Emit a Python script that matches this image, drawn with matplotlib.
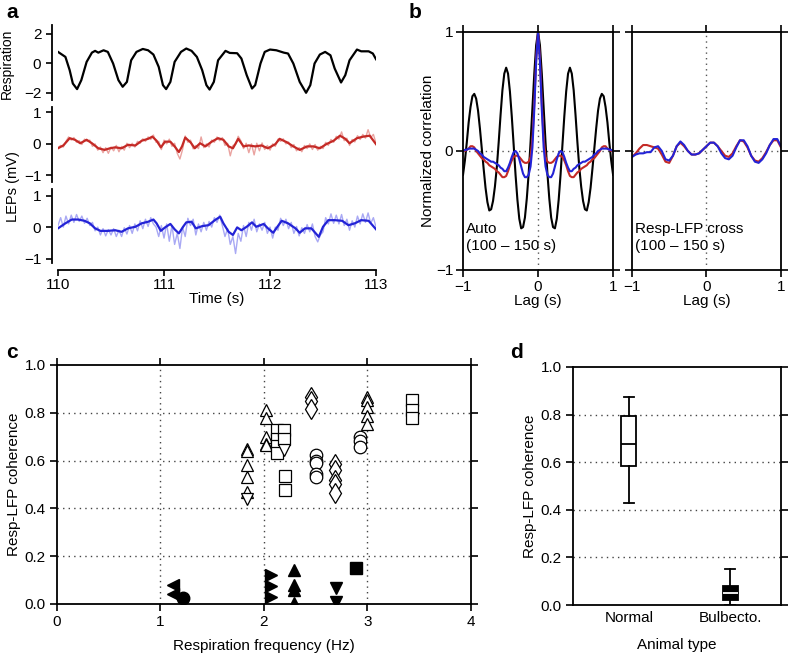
import matplotlib.pyplot as plt
import numpy as np

plt.rcParams['font.family'] = ['Liberation Sans', 'DejaVu Sans']
plt.rcParams['font.size'] = 11
plt.rcParams['axes.linewidth'] = 1.3
plt.rcParams['xtick.major.width'] = 1.2
plt.rcParams['ytick.major.width'] = 1.2

# ---- panel a: raw traces (time in s) ----
resp_t = [110.00, 110.07, 110.11, 110.14, 110.18, 110.22, 110.27, 110.32, 110.35, 110.38,
          110.43, 110.47, 110.52, 110.57, 110.61, 110.65, 110.69, 110.74, 110.80, 110.85,
          110.90, 110.95, 110.99, 111.02, 111.06, 111.10, 111.16, 111.21, 111.26, 111.31,
          111.36, 111.40, 111.43, 111.47, 111.51, 111.58, 111.62, 111.69, 111.73, 111.78,
          111.83, 111.86, 111.91, 111.95, 112.00, 112.06, 112.13, 112.17, 112.22, 112.28,
          112.34, 112.38, 112.42, 112.47, 112.52, 112.57, 112.61, 112.67, 112.71, 112.75,
          112.82, 112.86, 112.93, 112.97, 113.00]
resp_v = [0.77, 0.43, -0.47, -1.38, -1.76, -1.15, 0.09, 0.72, 0.84, 0.72,
          0.88, 0.77, -0.02, -1.15, -1.60, -1.27, 0.20, 0.77, 0.97, 0.88,
          0.59, -0.25, -1.49, -1.76, -1.27, 0.09, 0.77, 1.00, 0.84, 0.43,
          -0.47, -1.49, -1.79, -1.27, 0.20, 0.84, 0.70, 0.68, 0.32, -0.81,
          -1.72, -1.49, -0.02, 0.77, 0.93, 0.88, 0.72, 0.66, -0.02, -1.27,
          -2.01, -1.49, -0.02, 0.59, 0.77, 0.54, -0.36, -1.31, -0.81, 0.20,
          0.93, 0.81, 0.81, 0.66, 0.27]

red_t = [110.00, 110.05, 110.11, 110.16, 110.21, 110.27, 110.32, 110.38, 110.44, 110.49,
         110.54, 110.60, 110.66, 110.73, 110.79, 110.85, 110.89, 110.93, 110.97, 111.01,
         111.06, 111.10, 111.14, 111.17, 111.20, 111.25, 111.29, 111.34, 111.39, 111.45,
         111.51, 111.56, 111.61, 111.65, 111.70, 111.75, 111.80, 111.86, 111.92, 111.98,
         112.05, 112.09, 112.16, 112.22, 112.28, 112.35, 112.41, 112.47, 112.53, 112.60,
         112.66, 112.71, 112.75, 112.82, 112.88, 112.94, 113.00]
red_v = [-0.14, -0.05, 0.18, 0.13, 0.02, 0.13, 0.02, -0.14, -0.19, -0.14,
         -0.11, -0.14, -0.03, -0.05, 0.10, 0.16, 0.23, 0.10, -0.11, 0.07,
         0.07, -0.08, -0.26, -0.08, 0.20, 0.05, -0.14, 0.02, -0.08, 0.07,
         0.18, 0.13, -0.08, -0.14, 0.16, -0.08, -0.05, -0.08, -0.05, -0.14,
         -0.01, 0.16, 0.05, -0.08, -0.19, -0.08, -0.08, -0.14, -0.01, 0.10,
         0.26, 0.16, 0.02, 0.18, 0.23, 0.26, -0.01]

blue_t = [110.00, 110.07, 110.13, 110.19, 110.25, 110.30, 110.35, 110.40, 110.47, 110.54,
          110.60, 110.66, 110.73, 110.79, 110.85, 110.90, 110.93, 110.97, 111.01, 111.06,
          111.10, 111.14, 111.18, 111.21, 111.26, 111.30, 111.36, 111.42, 111.48, 111.53,
          111.56, 111.61, 111.65, 111.69, 111.73, 111.78, 111.83, 111.87, 111.94, 111.98,
          112.03, 112.08, 112.11, 112.17, 112.24, 112.28, 112.33, 112.39, 112.46, 112.50,
          112.55, 112.61, 112.68, 112.74, 112.80, 112.86, 112.93, 113.00]
blue_v = [-0.04, 0.12, 0.24, 0.24, 0.20, 0.12, -0.04, -0.12, -0.12, -0.10,
          -0.15, -0.04, 0.01, 0.12, 0.17, 0.24, 0.12, -0.12, -0.01, 0.10,
          -0.07, -0.20, 0.01, 0.15, 0.17, -0.04, 0.03, 0.06, 0.22, 0.33,
          0.12, -0.15, -0.25, -0.01, -0.10, 0.01, 0.15, 0.01, 0.10, -0.04,
          -0.18, 0.06, 0.20, 0.12, -0.04, -0.18, -0.04, -0.04, -0.31, 0.01,
          0.22, 0.22, 0.20, 0.06, 0.12, 0.22, 0.20, -0.07]

# unfiltered LFPs, sampled every 25 ms
raw_t = np.linspace(110, 113, 121)
red_raw = [-0.12, -0.05, -0.10, 0.08, 0.22, 0.12, 0.20, 0.05, 0.10, -0.02,
           0.15, 0.08, 0.12, -0.08, 0.00, -0.20, -0.10, -0.28, -0.12, -0.30,
           -0.10, -0.22, -0.05, -0.25, -0.08, -0.20, 0.02, -0.12, 0.02, -0.10,
           0.08, 0.02, 0.16, 0.08, 0.22, 0.14, 0.28, 0.05, 0.08, -0.18,
           0.12, 0.00, 0.15, -0.08, 0.02, -0.30, -0.48, -0.18, 0.25, 0.05,
           0.12, -0.16, -0.05, -0.15, 0.22, -0.12, 0.00, -0.10, 0.12, 0.05,
           0.22, 0.10, 0.20, -0.05, 0.02, -0.38, -0.05, -0.02, 0.24, 0.10,
           -0.15, 0.02, -0.28, 0.00, -0.35, 0.02, -0.22, 0.03, -0.18, -0.05,
           -0.20, 0.00, -0.08, 0.15, 0.08, 0.16, 0.00, 0.06, -0.12, -0.02,
           -0.22, -0.12, -0.25, -0.05, -0.15, 0.00, -0.18, -0.02, -0.20, -0.08,
           -0.15, 0.05, -0.05, 0.14, 0.05, 0.24, 0.15, 0.38, 0.10, 0.18,
           -0.05, 0.14, 0.06, 0.26, 0.14, 0.30, 0.18, 0.45, 0.20, 0.30,
           0.02]
blue_raw = [0.05, 0.30, 0.00, 0.35, 0.10, 0.38, 0.15, 0.40, 0.18, 0.35,
            0.12, 0.28, 0.05, 0.15, -0.12, 0.00, -0.25, -0.05, -0.28, -0.08,
            -0.25, -0.05, -0.30, -0.10, -0.30, -0.02, -0.22, 0.05, -0.20, 0.10,
            -0.12, 0.20, -0.05, 0.25, 0.02, 0.30, 0.10, 0.00, -0.30, 0.05,
            -0.35, 0.10, -0.45, 0.05, -0.55, -0.20, -0.68, 0.00, -0.30, 0.28,
            0.05, 0.25, -0.25, 0.10, -0.15, 0.15, -0.10, 0.18, 0.00, 0.30,
            0.15, 0.38, 0.05, -0.30, -0.05, -0.55, -0.30, -0.84, -0.20, -0.45,
            0.05, -0.30, 0.15, -0.10, 0.25, -0.15, 0.10, -0.10, 0.15, -0.20,
            0.00, -0.35, 0.00, -0.10, 0.28, 0.05, 0.25, -0.05, 0.15, -0.20,
            0.02, -0.28, -0.02, -0.20, 0.08, -0.15, 0.10, -0.30, -0.47, -0.25,
            -0.15, 0.30, 0.10, 0.42, 0.12, 0.38, 0.10, 0.40, 0.05, 0.25,
            -0.10, 0.20, 0.00, 0.35, 0.10, 0.42, 0.15, 0.45, 0.12, 0.30,
            0.00]

# ---- panel b: auto-correlations, lag -1..1 s every 25 ms ----
lags_auto = np.linspace(-1, 1, 81)
auto_resp = [-0.20, -0.08, 0.07, 0.24, 0.37, 0.46, 0.48, 0.44, 0.34, 0.19,
             0.02, -0.15, -0.31, -0.43, -0.50, -0.49, -0.42, -0.30, -0.14, 0.07,
             0.30, 0.51, 0.65, 0.70, 0.65, 0.50, 0.29, 0.05, -0.20, -0.41,
             -0.57, -0.65, -0.64, -0.56, -0.40, -0.19, 0.07, 0.36, 0.65, 0.89,
             1.00,
             0.89, 0.65, 0.36, 0.07, -0.19, -0.40, -0.56, -0.64, -0.65, -0.57,
             -0.41, -0.20, 0.05, 0.29, 0.50, 0.65, 0.70, 0.65, 0.51, 0.30,
             0.07, -0.14, -0.30, -0.42, -0.49, -0.50, -0.43, -0.31, -0.15, 0.02,
             0.19, 0.34, 0.44, 0.48, 0.46, 0.37, 0.24, 0.07, -0.08, -0.20]
auto_red = [0.00, 0.00, 0.01, 0.02, 0.04, 0.04, 0.03, 0.00, -0.02, -0.04,
            -0.06, -0.07, -0.09, -0.10, -0.12, -0.13, -0.14, -0.15, -0.17, -0.18,
            -0.20, -0.22, -0.22, -0.21, -0.17, -0.12, -0.08, -0.05, -0.04, -0.04,
            -0.05, -0.07, -0.09, -0.10, -0.10, -0.09, -0.05, 0.10, 0.40, 0.78,
            1.00,
            0.78, 0.40, 0.10, -0.05, -0.09, -0.10, -0.10, -0.09, -0.07, -0.05,
            -0.04, -0.04, -0.05, -0.08, -0.12, -0.17, -0.21, -0.22, -0.22, -0.20,
            -0.18, -0.17, -0.15, -0.14, -0.13, -0.12, -0.10, -0.09, -0.07, -0.06,
            -0.04, -0.02, 0.00, 0.03, 0.04, 0.04, 0.02, 0.01, 0.00, 0.00]
auto_blue = [0.00, 0.01, 0.01, 0.02, 0.02, 0.02, 0.02, 0.01, 0.00, -0.02,
             -0.03, -0.05, -0.06, -0.07, -0.08, -0.09, -0.09, -0.10, -0.11, -0.12,
             -0.14, -0.15, -0.17, -0.17, -0.14, -0.10, -0.05, -0.01, 0.00, -0.02,
             -0.07, -0.13, -0.19, -0.22, -0.22, -0.20, -0.13, 0.03, 0.35, 0.75,
             1.00,
             0.75, 0.35, 0.03, -0.13, -0.20, -0.22, -0.22, -0.19, -0.13, -0.07,
             -0.02, 0.00, -0.01, -0.05, -0.10, -0.14, -0.17, -0.17, -0.15, -0.14,
             -0.12, -0.11, -0.10, -0.09, -0.09, -0.08, -0.07, -0.06, -0.05, -0.03,
             -0.02, 0.00, 0.01, 0.02, 0.02, 0.02, 0.02, 0.01, 0.01, 0.00]

# resp-LFP cross-correlations, every 50 ms
lags_cross = np.linspace(-1, 1, 41)
cross_red = [-0.05, -0.02, 0.02, 0.05, 0.05, 0.04, 0.03, 0.02, -0.03, -0.09,
             -0.10, -0.04, 0.04, 0.07, 0.04, 0.00, -0.03, -0.03, -0.02, 0.01,
             0.04,
             0.07, 0.07, 0.04, 0.00, -0.04, -0.05, -0.02, 0.04, 0.09, 0.08,
             0.03, -0.04, -0.08, -0.09, -0.06, -0.01, 0.05, 0.09, 0.09, 0.03]
cross_blue = [-0.05, -0.03, -0.02, -0.02, -0.01, -0.01, 0.03, 0.04, 0.00, -0.07,
              -0.08, -0.04, 0.04, 0.08, 0.05, 0.00, -0.03, -0.03, -0.02, 0.01,
              0.04,
              0.07, 0.07, 0.04, -0.02, -0.06, -0.07, -0.04, 0.03, 0.09, 0.09,
              0.04, -0.04, -0.09, -0.10, -0.07, -0.02, 0.05, 0.10, 0.10, 0.04]

# ---- panel c: coherence per animal ----
normal_freq = [1.84, 1.84, 2.02, 2.13, 2.19, 2.19, 2.20, 2.45, 2.50, 2.69, 2.93, 3.00, 3.43]
normal_coh = [[0.65, 0.64, 0.58, 0.53, 0.47], [0.44],
              [0.81, 0.78, 0.70, 0.67, 0.665],
              [0.73, 0.69, 0.66, 0.63], [0.73, 0.69], [0.645], [0.535, 0.475],
              [0.865, 0.85, 0.815],
              [0.625, 0.60, 0.59, 0.545, 0.53],
              [0.585, 0.56, 0.52, 0.50, 0.465],
              [0.70, 0.68, 0.655],
              [0.865, 0.855, 0.825, 0.785, 0.755],
              [0.855, 0.81, 0.78]]
normal_markers = ['^', 'v', '^', 's', 's', 'v', 's', 'd', 'o', 'd', 'o', '^', 's']

bulb_freq = [1.12, 1.22, 2.07, 2.29, 2.70, 2.89]
bulb_coh = [[0.079, 0.042], [0.024], [0.121, 0.075, 0.028],
            [0.142, 0.079, 0.059, 0.003], [0.066, 0.01], [0.152]]
bulb_markers = ['<', 'o', '>', '^', 'v', 's']

# ---- panel d: box summary ----
d_labels = ['Normal', 'Bulbecto.']
d_whislo = [0.43, 0.0]
d_q1 = [0.585, 0.022]
d_med = [0.675, 0.05]
d_q3 = [0.795, 0.08]
d_whishi = [0.875, 0.15]

RED = '#c42a26'
RED_L = '#eaa3a0'
BLUE = '#2323d6'
BLUE_L = '#a9a9f4'
DOT = (0, (1, 3))

fig = plt.figure(figsize=(7.88, 6.54), dpi=100)

# panel a
ax_r = fig.add_axes([0.0736, 0.8471, 0.4036, 0.1147])
ax_l1 = fig.add_axes([0.0736, 0.7217, 0.4036, 0.1147])
ax_l2 = fig.add_axes([0.0736, 0.5979, 0.4036, 0.1131])
ax_r.plot(resp_t, resp_v, color='black', lw=1.6)
ax_l1.plot(raw_t, red_raw, color=RED_L, lw=1.0)
ax_l1.plot(red_t, red_v, color=RED, lw=1.6)
ax_l2.plot(raw_t, blue_raw, color=BLUE_L, lw=1.0)
ax_l2.plot(blue_t, blue_v, color=BLUE, lw=1.6)
ax_r.set_ylim(-2.5, 2.6)
ax_r.set_yticks([-2, 0, 2])
ax_l1.set_ylim(-1.21, 1.17)
ax_l2.set_ylim(-1.14, 1.21)
for ax in (ax_l1, ax_l2):
    ax.set_yticks([-1, 0, 1])
for ax in (ax_r, ax_l1, ax_l2):
    ax.set_xlim(110, 113)
    for s in ('top', 'right', 'bottom'):
        ax.spines[s].set_visible(False)
    ax.spines['left'].set_position(('outward', 4.5))
    ax.tick_params(axis='y', direction='out', length=4)
    ax.tick_params(axis='x', bottom=False, labelbottom=False)
ax_l2.spines['bottom'].set_visible(True)
ax_l2.spines['bottom'].set_position(('outward', 5))
ax_l2.set_xticks([110, 111, 112, 113])
ax_l2.tick_params(axis='x', bottom=True, labelbottom=True, direction='out', length=4, pad=2)
ax_l2.set_xlabel('Time (s)', labelpad=0)
ax_r.set_ylabel('Respiration', fontsize=10)
ax_r.yaxis.set_label_coords(-0.14, 0.48)
fig.text(0.017, 0.714, 'LEPs (mV)', rotation=90, ha='center', va='center', fontsize=10.5)

# panel b
ax_b1 = fig.add_axes([0.5876, 0.5872, 0.1904, 0.3639])
ax_b2 = fig.add_axes([0.8020, 0.5872, 0.1891, 0.3639])
for ax in (ax_b1, ax_b2):
    ax.axhline(0, color='#555555', lw=1, ls=DOT, zorder=1)
    ax.axvline(0, color='#555555', lw=1, ls=DOT, zorder=1)
    ax.set_xlim(-1, 1)
    ax.set_ylim(-1, 1)
    ax.set_xticks([-1, 0, 1])
    ax.set_yticks([-1, 0, 1])
    ax.tick_params(direction='out', length=5, top=True, right=True, pad=2)
    ax.set_xlabel('Lag (s)', labelpad=0)
ax_b1.plot(lags_auto, auto_resp, color='black', lw=1.5)
ax_b1.plot(lags_auto, auto_red, color=RED, lw=1.5)
ax_b1.plot(lags_auto, auto_blue, color=BLUE, lw=1.5)
ax_b2.plot(lags_cross, cross_red, color=RED, lw=1.5)
ax_b2.plot(lags_cross, cross_blue, color=BLUE, lw=1.5)
ax_b2.tick_params(labelleft=False)
ax_b1.set_ylabel('Normalized correlation', labelpad=1)
ax_b1.text(-0.96, -0.6, 'Auto\n(100 \u2013 150 s)', ha='left', va='top', linespacing=1.25)
ax_b2.text(-0.96, -0.6, 'Resp-LFP cross\n(100 \u2013 150 s)', ha='left', va='top', linespacing=1.25)

# panel c
ax_c = fig.add_axes([0.0723, 0.0765, 0.5254, 0.3654])
for g in [1, 2, 3]:
    ax_c.axvline(g, color='#444444', lw=1, ls=DOT, zorder=1)
for g in [0.2, 0.4, 0.6, 0.8]:
    ax_c.axhline(g, color='#444444', lw=1, ls=DOT, zorder=1)
for f, vals, m in zip(normal_freq, normal_coh, normal_markers):
    ax_c.plot([f] * len(vals), vals, ls='none', marker=m, ms=9 if m != 'd' else 10,
              mfc='white', mec='black', mew=0.9, zorder=3)
for f, vals, m in zip(bulb_freq, bulb_coh, bulb_markers):
    ax_c.plot([f] * len(vals), vals, ls='none', marker=m, ms=9,
              mfc='black', mec='black', zorder=3)
ax_c.set_xlim(0, 4)
ax_c.set_ylim(0, 1)
ax_c.set_xticks([0, 1, 2, 3, 4])
ax_c.set_yticks([0.0, 0.2, 0.4, 0.6, 0.8, 1.0])
ax_c.set_yticklabels(['0.0', '0.2', '0.4', '0.6', '0.8', '1.0'])
ax_c.tick_params(direction='out', length=5, top=True, right=True, pad=3)
ax_c.set_xlabel('Respiration frequency (Hz)', labelpad=7)
ax_c.set_ylabel('Resp-LFP coherence', labelpad=3)

# panel d
ax_d = fig.add_axes([0.7272, 0.0749, 0.2640, 0.3640])
for g in [0.2, 0.4, 0.6, 0.8]:
    ax_d.axhline(g, color='#444444', lw=1, ls=DOT, zorder=1)
stats = [dict(label=lab, whislo=a, q1=b, med=c, q3=d, whishi=e)
         for lab, a, b, c, d, e in zip(d_labels, d_whislo, d_q1, d_med, d_q3, d_whishi)]
bp = ax_d.bxp(stats, positions=[1, 2], widths=0.15, showfliers=False, patch_artist=True,
              capwidths=0.1,
              boxprops=dict(lw=1.3, edgecolor='black'),
              whiskerprops=dict(lw=1.3, color='black'),
              capprops=dict(lw=1.3, color='black'),
              medianprops=dict(lw=1.3, color='black'))
bp['boxes'][0].set_facecolor('white')
bp['boxes'][1].set_facecolor('black')
bp['medians'][1].set_color('white')
for art in bp['boxes'] + bp['whiskers'] + bp['caps'] + bp['medians']:
    art.set_zorder(3)
ax_d.set_xlim(0.45, 2.5)
ax_d.set_ylim(0, 1)
ax_d.set_yticks([0.0, 0.2, 0.4, 0.6, 0.8, 1.0])
ax_d.set_yticklabels(['0.0', '0.2', '0.4', '0.6', '0.8', '1.0'])
ax_d.tick_params(axis='y', direction='out', length=5, right=True, pad=3)
ax_d.tick_params(axis='x', length=0, pad=4)
ax_d.set_xlabel('Animal type', labelpad=10)
ax_d.set_ylabel('Resp-LFP coherence', labelpad=3)

for lab, x, y in [('a', 0.008, 0.995), ('b', 0.518, 0.995), ('c', 0.008, 0.475), ('d', 0.648, 0.475)]:
    fig.text(x, y, lab, fontsize=15, fontweight='bold', va='top', ha='left')

fig.savefig('out.png', dpi=100)
